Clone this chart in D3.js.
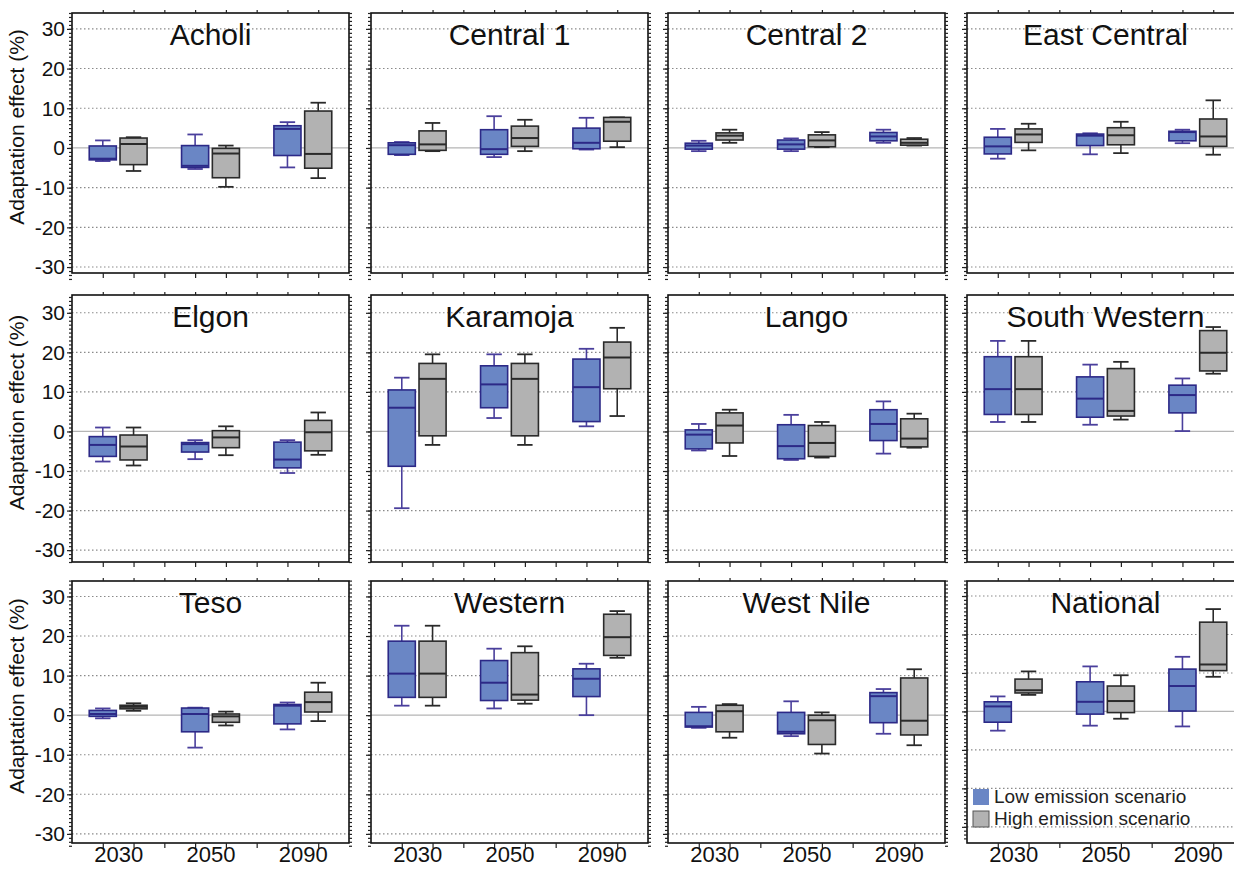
<!DOCTYPE html>
<html>
<head>
<meta charset="utf-8">
<script src="https://cdn.jsdelivr.net/npm/d3@7"></script>
<style>
  body { margin: 0; background: #fff; }
  text { font-family: "Liberation Sans", Arial, sans-serif; }
</style>
</head>
<body>
<svg id="chart"></svg>
<script>
// data: each box is [whisker low, q1, median, q3, whisker high]
const regions = ["Acholi", "Central 1", "Central 2", "East Central",
                 "Elgon", "Karamoja", "Lango", "South Western",
                 "Teso", "Western", "West Nile", "National"];
const years = ["2030", "2050", "2090"];
const scenarios = ["Low emission scenario", "High emission scenario"];
const yTicks = [-30, -20, -10, 0, 10, 20, 30];

const lowStats = [
  [[-3.3, -3.0, -2.7, 0.5, 1.9], [-5.3, -4.9, -4.5, 0.6, 3.4], [-4.9, -1.9, 4.8, 5.6, 6.5]],
  [[-1.8, -1.6, 0.7, 1.3, 1.5], [-2.3, -1.6, -0.3, 4.6, 8.0], [-0.4, -0.2, 1.3, 5.0, 7.6]],
  [[-0.8, -0.3, 0.6, 1.2, 1.8], [-0.8, -0.3, 0.9, 2.0, 2.4], [1.3, 1.8, 2.9, 3.9, 4.6]],
  [[-2.7, -1.5, 0.4, 2.7, 4.8], [-1.6, 0.6, 3.1, 3.5, 3.7], [1.2, 1.8, 4.0, 4.2, 4.6]],
  [[-7.6, -6.3, -3.4, -1.3, 1.0], [-7.0, -5.2, -3.2, -2.8, -2.2], [-10.5, -9.2, -7.1, -2.7, -2.2]],
  [[-19.4, -8.8, 6.0, 10.5, 13.6], [3.4, 6.0, 11.9, 16.6, 19.5], [1.3, 2.5, 11.2, 18.3, 20.9]],
  [[-4.8, -4.4, -0.8, 0.4, 1.9], [-7.2, -6.9, -3.7, 1.7, 4.2], [-5.6, -2.3, 1.9, 5.5, 7.6]],
  [[2.4, 4.3, 10.7, 18.9, 22.9], [1.7, 3.6, 8.3, 13.8, 16.9], [0.1, 4.7, 9.2, 11.7, 13.4]],
  [[-0.8, -0.3, 0.3, 1.2, 1.7], [-8.2, -4.2, 0.3, 1.8, 1.9], [-3.6, -2.2, 2.4, 2.7, 3.2]],
  [[2.4, 4.5, 10.5, 18.7, 22.6], [1.7, 3.7, 8.2, 13.8, 16.8], [0.0, 4.7, 9.2, 11.7, 13.0]],
  [[-3.2, -3.0, -2.8, 0.7, 2.1], [-5.3, -4.7, -4.2, 0.7, 3.5], [-4.7, -1.9, 4.8, 5.7, 6.6]],
  [[-5.0, -2.8, 1.3, 2.5, 3.9], [-3.7, -0.7, 2.5, 7.7, 11.7], [-3.9, 0.1, 6.6, 11.0, 14.2]]
];

const highStats = [
  [[-5.8, -4.2, 1.0, 2.5, 2.7], [-9.8, -7.5, -1.4, -0.1, 0.6], [-7.6, -5.1, -1.5, 9.3, 11.4]],
  [[-0.8, -0.6, 0.9, 4.3, 6.3], [-0.8, 0.4, 2.5, 5.5, 7.1], [0.2, 1.7, 6.6, 7.7, 7.7]],
  [[1.3, 2.0, 3.1, 3.8, 4.6], [0.2, 0.3, 1.9, 3.3, 4.0], [0.6, 0.7, 1.3, 2.2, 2.5]],
  [[-0.6, 1.4, 3.4, 4.8, 6.1], [-1.3, 0.8, 3.2, 5.1, 6.6], [-1.7, 0.4, 2.9, 7.3, 12.0]],
  [[-8.6, -7.2, -3.8, -0.9, 1.0], [-6.0, -4.1, -1.5, 0.2, 1.3], [-5.9, -4.9, -0.2, 2.8, 4.8]],
  [[-3.4, -1.1, 13.3, 17.2, 19.5], [-3.4, -1.1, 13.3, 17.2, 19.5], [3.9, 10.8, 18.7, 22.6, 26.2]],
  [[-6.2, -2.9, 1.5, 4.7, 5.5], [-6.6, -6.3, -2.9, 1.5, 2.4], [-4.1, -3.9, -1.8, 3.2, 4.5]],
  [[2.4, 4.3, 10.7, 18.9, 22.9], [3.0, 3.9, 5.2, 15.9, 17.6], [14.6, 15.3, 19.9, 25.5, 26.4]],
  [[1.1, 1.6, 2.1, 2.5, 3.0], [-2.6, -1.8, -0.3, 0.3, 0.9], [-1.5, 0.8, 3.3, 5.8, 8.2]],
  [[2.4, 4.5, 10.5, 18.7, 22.6], [2.9, 3.8, 5.2, 15.8, 17.4], [14.5, 15.1, 19.7, 25.5, 26.3]],
  [[-5.7, -4.2, 1.0, 2.5, 2.8], [-9.7, -7.4, -1.3, 0.0, 0.7], [-7.6, -5.0, -1.4, 9.4, 11.6]],
  [[4.3, 4.8, 5.5, 8.4, 10.4], [-1.9, -0.3, 2.7, 6.6, 9.4], [9.0, 10.6, 12.2, 23.2, 26.6]]
];

// layout
const W = 1234, H = 870;
const colLeft = [72, 371, 668, 967];
const panelW = 277;
const rowTop = [13, 295, 581], rowBottom = [273, 562, 843];
const rowMax = [34, 34.5, 33.9], rowMin = [-31.5, -33, -32.3];

const fills = ["#6a86c5", "#b2b2b2"];
const strokes = ["#2c2987", "#2a2a2a"];
const whiskerCol = ["#4a3f9c", "#2a2a2a"];

const svg = d3.select("#chart").attr("width", W).attr("height", H);

regions.forEach(function(name, i) {
  const r = Math.floor(i / 4), c = i % 4;
  const h = rowBottom[r] - rowTop[r];
  const yMin = name == "National" ? -34.2 : rowMin[r];

  const x = d3.scaleLinear().domain([0, 9]).range([0, panelW]);
  const y = d3.scaleLinear().domain([yMin, rowMax[r]]).range([h, 0]);

  const g = svg.append("g").attr("transform", "translate(" + colLeft[c] + "," + rowTop[r] + ")");

  // dotted grid
  g.selectAll(".grid")
    .data(yTicks.filter(function(d) { return d != 0; }))
    .enter().append("line")
    .attr("x1", 0).attr("x2", panelW)
    .attr("y1", function(d) { return y(d); }).attr("y2", function(d) { return y(d); })
    .attr("stroke", "#8a8a8a").attr("stroke-width", 1.1)
    .attr("stroke-dasharray", "1.5,2.5");

  g.append("line")
    .attr("x1", 0).attr("x2", panelW).attr("y1", y(0)).attr("y2", y(0))
    .attr("stroke", "#b5b5b5").attr("stroke-width", 1.3);

  // boxes
  const boxes = [];
  years.forEach(function(yr, k) {
    boxes.push({s: 0, pos: k * 3 + 1, v: lowStats[i][k]});
    boxes.push({s: 1, pos: k * 3 + 2, v: highStats[i][k]});
  });
  const bw = x(0.88) - x(0), cw = x(0.5) - x(0);

  const b = g.selectAll(".box").data(boxes).enter().append("g");
  b.append("line")
    .attr("x1", function(d) { return x(d.pos); }).attr("x2", function(d) { return x(d.pos); })
    .attr("y1", function(d) { return y(d.v[0]); }).attr("y2", function(d) { return y(d.v[4]); })
    .attr("stroke", function(d) { return whiskerCol[d.s]; }).attr("stroke-width", 1.6);
  [0, 4].forEach(function(j) {
    b.append("line")
      .attr("x1", function(d) { return x(d.pos) - cw / 2; }).attr("x2", function(d) { return x(d.pos) + cw / 2; })
      .attr("y1", function(d) { return y(d.v[j]); }).attr("y2", function(d) { return y(d.v[j]); })
      .attr("stroke", function(d) { return whiskerCol[d.s]; }).attr("stroke-width", 1.8);
  });
  b.append("rect")
    .attr("x", function(d) { return x(d.pos) - bw / 2; })
    .attr("width", bw)
    .attr("y", function(d) { return y(d.v[3]); })
    .attr("height", function(d) { return Math.max(1, y(d.v[1]) - y(d.v[3])); })
    .attr("fill", function(d) { return fills[d.s]; })
    .attr("stroke", function(d) { return strokes[d.s]; }).attr("stroke-width", 1.6);
  b.append("line")
    .attr("x1", function(d) { return x(d.pos) - bw / 2; }).attr("x2", function(d) { return x(d.pos) + bw / 2; })
    .attr("y1", function(d) { return y(d.v[2]); }).attr("y2", function(d) { return y(d.v[2]); })
    .attr("stroke", function(d) { return strokes[d.s]; }).attr("stroke-width", 2);

  // frame
  g.append("rect").attr("width", panelW).attr("height", h)
    .attr("fill", "none").attr("stroke", "#111").attr("stroke-width", 1.6);

  // axes
  const ticks8 = d3.range(1, 9);
  const xb = g.append("g").attr("transform", "translate(0," + h + ")")
    .call(d3.axisBottom(x).tickValues(ticks8).tickSize(5).tickFormat(""));
  const xt = g.append("g").call(d3.axisTop(x).tickValues(ticks8).tickSize(3).tickFormat(""));

  const yl = g.append("g").call(d3.axisLeft(y).tickValues(yTicks).tickSize(5)
    .tickFormat(function(d) { return c == 0 ? String(d) : ""; }));
  const ylm = g.append("g").call(d3.axisLeft(y).tickValues(d3.range(-33, 35)).tickSize(3).tickFormat(""));
  const yr = g.append("g").attr("transform", "translate(" + panelW + ",0)")
    .call(d3.axisRight(y).tickValues(d3.range(-33, 35)).tickSize(3).tickFormat(""));

  [xb, xt, yl, ylm, yr].forEach(function(a) {
    a.select(".domain").remove();
    a.selectAll(".tick line").attr("stroke", "#222").attr("stroke-width", 1.2);
  });
  yl.selectAll(".tick text").attr("font-size", 21).attr("fill", "#111").attr("dx", "1");

  if (r == 2) {
    const xl = g.append("g").attr("transform", "translate(0," + h + ")")
      .call(d3.axisBottom(x).tickValues([1.5, 4.5, 7.5]).tickSize(0)
        .tickFormat(function(d, k) { return years[k]; }));
    xl.select(".domain").remove();
    xl.selectAll(".tick text").attr("font-size", 22).attr("fill", "#111").attr("dy", "0.74em");
  }

  // panel title
  g.append("text").attr("x", panelW / 2).attr("y", 32)
    .attr("text-anchor", "middle").attr("font-size", 30).attr("fill", "#111")
    .text(name);

  if (c == 0) {
    g.append("text")
      .attr("transform", "translate(-48," + (h / 2 - 16) + ") rotate(-90)")
      .attr("text-anchor", "middle").attr("font-size", 21).attr("fill", "#111")
      .text("Adaptation effect (%)");
  }

  if (name == "National") {
    const lg = g.selectAll(".leg").data(scenarios).enter().append("g")
      .attr("transform", function(d, k) { return "translate(6," + (208 + k * 22) + ")"; });
    lg.append("rect").attr("width", 16).attr("height", 16)
      .attr("fill", function(d, k) { return fills[k]; })
      .attr("stroke", function(d, k) { return k == 0 ? "none" : "#555"; });
    lg.append("text").attr("x", 21).attr("y", 14).attr("font-size", 19).attr("fill", "#222")
      .text(function(d) { return d; });
  }
});
</script>
</body>
</html>
